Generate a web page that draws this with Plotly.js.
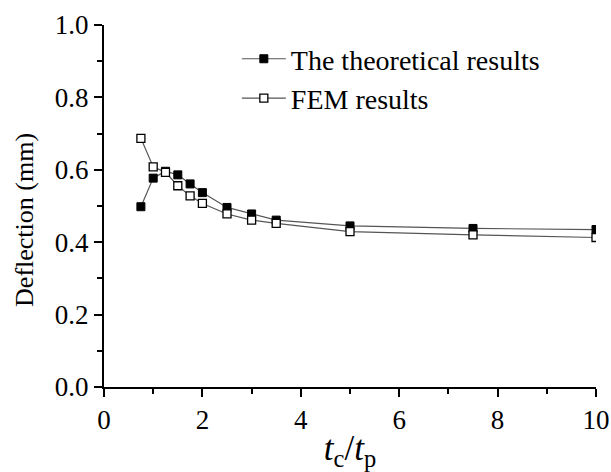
<!DOCTYPE html>
<html>
<head>
<meta charset="utf-8">
<script src="https://cdn.plot.ly/plotly-3.0.1.min.js"></script>
<style>html,body{margin:0;padding:0;background:#fff;}#chart{width:611px;height:472px;}</style>
</head>
<body>
<div id="chart"></div>
<script>
const ratio = [0.75, 1.0, 1.25, 1.5, 1.75, 2.0, 2.5, 3.0, 3.5, 5.0, 7.5, 10.0];
const theoretical = [0.498, 0.577, 0.596, 0.586, 0.561, 0.537, 0.496, 0.478, 0.461, 0.445, 0.438, 0.435];
const fem = [0.687, 0.608, 0.593, 0.556, 0.528, 0.507, 0.478, 0.461, 0.452, 0.429, 0.420, 0.413];
const seriesNames = ["The theoretical results", "FEM results"];
const xTickVals = [0, 2, 4, 6, 8, 10];
const yTickVals = [0.0, 0.2, 0.4, 0.6, 0.8, 1.0];
const yTickText = ["0.0", "0.2", "0.4", "0.6", "0.8", "1.0"];
const yTitle = "Deflection (mm)";
const xTitle = "<i>t</i><sub>c</sub>/<i>t</i><sub>p</sub>";

const serif = "Liberation Serif, Times New Roman, serif";

const traces = [
  {
    x: ratio, y: theoretical, name: seriesNames[0], mode: "lines+markers",
    line: {color: "#555", width: 1.2},
    marker: {symbol: "square", size: 8, color: "#000", line: {color: "#000", width: 1}}
  },
  {
    x: ratio, y: fem, name: seriesNames[1], mode: "lines+markers",
    line: {color: "#555", width: 1.2},
    marker: {symbol: "square", size: 8, color: "#fff", line: {color: "#000", width: 1.3}}
  }
];

const layout = {
  width: 611, height: 472,
  margin: {l: 104, r: 15, t: 25, b: 85},
  paper_bgcolor: "#fff", plot_bgcolor: "#fff",
  showlegend: true,
  legend: {
    x: 0.27, y: 0.975, xanchor: "left", yanchor: "top",
    bgcolor: "rgba(0,0,0,0)",
    itemwidth: 44,
    font: {family: serif, size: 28, color: "#000"},
    tracegroupgap: 0
  },
  xaxis: {
    range: [0, 10], tickvals: xTickVals, ticktext: xTickVals.map(String),
    showgrid: false, zeroline: false, showline: true, linecolor: "#000", linewidth: 2,
    ticks: "outside", ticklen: 8, tickwidth: 2, tickcolor: "#000",
    minor: {dtick: 1, ticks: "outside", ticklen: 5, tickwidth: 2, tickcolor: "#000", showgrid: false},
    tickfont: {family: serif, size: 27, color: "#000"},
    title: {text: xTitle, font: {family: serif, size: 35, color: "#000"}, standoff: 2}
  },
  yaxis: {
    range: [0, 1.0], tickvals: yTickVals, ticktext: yTickText,
    showgrid: false, zeroline: false, showline: true, linecolor: "#000", linewidth: 2,
    ticks: "outside", ticklen: 8, tickwidth: 2, tickcolor: "#000",
    minor: {dtick: 0.1, ticks: "outside", ticklen: 5, tickwidth: 2, tickcolor: "#000", showgrid: false},
    tickfont: {family: serif, size: 27, color: "#000"}
  },
  annotations: [{
    text: yTitle, textangle: -90, showarrow: false,
    xref: "paper", yref: "paper", x: -0.163, y: 0.461, xanchor: "center", yanchor: "middle",
    font: {family: serif, size: 26, color: "#000"}
  }]
};

Plotly.newPlot("chart", traces, layout, {displayModeBar: false, staticPlot: true});
</script>
</body>
</html>
